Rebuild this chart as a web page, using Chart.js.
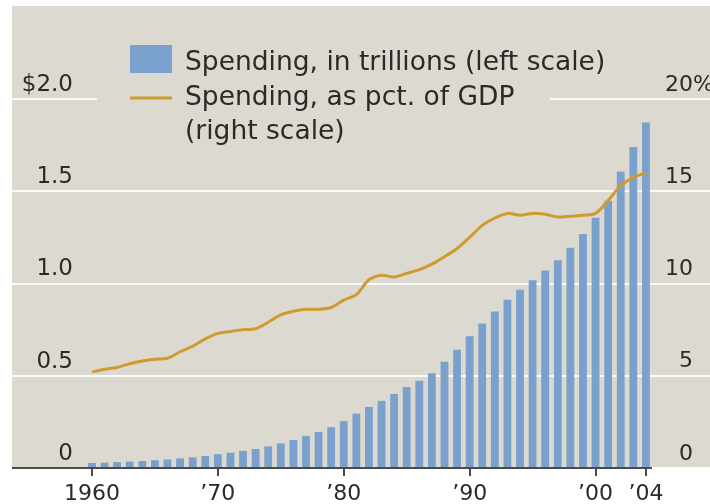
<!DOCTYPE html>
<html>
<head>
<meta charset="utf-8">
<title>Health spending</title>
<script src="https://cdn.jsdelivr.net/npm/chart.js@4.4.1/dist/chart.umd.min.js"></script>
<style>
  html, body { margin: 0; padding: 0; background: #fff; }
  #wrap { position: relative; width: 710px; height: 504px; }
</style>
</head>
<body>
<div id="wrap"><canvas id="spendChart"></canvas></div>
<script>
'use strict';

// ── DATA ────────────────────────────────────────────────────────
var years = [
  1960, 1961, 1962, 1963, 1964, 1965, 1966, 1967, 1968, 1969,
  1970, 1971, 1972, 1973, 1974, 1975, 1976, 1977, 1978, 1979,
  1980, 1981, 1982, 1983, 1984, 1985, 1986, 1987, 1988, 1989,
  1990, 1991, 1992, 1993, 1994, 1995, 1996, 1997, 1998, 1999,
  2000, 2001, 2002, 2003, 2004
];

// spending, in trillions of dollars (left scale)
var spendingTrillions = [
  0.027, 0.029, 0.032, 0.035, 0.038, 0.042, 0.046, 0.052, 0.058, 0.065,
  0.075, 0.083, 0.093, 0.103, 0.117, 0.133, 0.152, 0.174, 0.195, 0.221,
  0.254, 0.295, 0.331, 0.364, 0.401, 0.439, 0.473, 0.514, 0.576, 0.641,
  0.714, 0.783, 0.848, 0.912, 0.966, 1.017, 1.070, 1.126, 1.194, 1.268,
  1.357, 1.448, 1.607, 1.740, 1.872
];

// spending as pct. of GDP (right scale)
var spendingPctGDP = [
  5.2, 5.35, 5.45, 5.65, 5.8, 5.9, 5.95, 6.3, 6.6, 7.0,
  7.3, 7.4, 7.5, 7.55, 7.9, 8.3, 8.5, 8.6, 8.6, 8.7,
  9.1, 9.4, 10.2, 10.45, 10.35, 10.55, 10.75, 11.05, 11.45, 11.9,
  12.5, 13.15, 13.55, 13.8, 13.7, 13.8, 13.75, 13.6, 13.65, 13.7,
  13.8, 14.5, 15.3, 15.75, 16.0
];

var leftTicks       = [0, 0.5, 1, 1.5, 2];
var leftTickLabels  = ['0', '0.5', '1.0', '1.5', '$2.0'];
var rightTicks      = [0, 5, 10, 15, 20];
var rightTickLabels = ['0', '5', '10', '15', '20'];
var xTickYears      = [1960, 1970, 1980, 1990, 2000, 2004];
var xTickLabels     = ['1960', '\u201970', '\u201980', '\u201990', '\u201900', '\u201904'];

var legendLabels = [
  ['Spending, in trillions (left scale)'],
  ['Spending, as pct. of GDP', '(right scale)']
];

// ── STYLE ───────────────────────────────────────────────────────
var BG         = '#dcdad0';
var BAR_COLOR  = '#7aa0cd';
var LINE_COLOR = '#cf9a2e';
var TEXT_COLOR = '#2a2a2a';
var FONT       = '"DejaVu Sans", sans-serif';
var TICK_LIFT  = 14;   // tick labels sit above their grid line

// ── PLUGINS ─────────────────────────────────────────────────────
var panelBg = {
  id: 'panelBg',
  beforeDraw: function (chart) {
    var a = chart.chartArea, ctx = chart.ctx;
    ctx.save();
    ctx.fillStyle = BG;
    ctx.fillRect(a.left, 6, a.right - a.left, a.bottom - 6);
    ctx.restore();
  }
};

var axisAndLegend = {
  id: 'axisAndLegend',
  afterDraw: function (chart) {
    var ctx = chart.ctx, a = chart.chartArea;
    var xs = chart.scales.x, ys = chart.scales.y, y1 = chart.scales.y1;
    ctx.save();

    // baseline: stops at the last bar
    ctx.strokeStyle = '#4a4a4a';
    ctx.lineWidth = 2;
    ctx.beginPath();
    ctx.moveTo(a.left, a.bottom);
    ctx.lineTo(xs.getPixelForValue(years[years.length - 1]) + 6, a.bottom);
    ctx.stroke();

    // left-hand tick labels, right-aligned inside the panel
    ctx.fillStyle = TEXT_COLOR;
    ctx.font = '23px ' + FONT;
    ctx.textAlign = 'right';
    ctx.textBaseline = 'middle';
    leftTicks.forEach(function (v, i) {
      ctx.fillText(leftTickLabels[i], a.left + 61, ys.getPixelForValue(v) - TICK_LIFT);
    });

    // "%" after the top right-hand tick
    ctx.font = '22px ' + FONT;
    ctx.textAlign = 'left';
    ctx.fillText('%', y1.left - 17, y1.getPixelForValue(20) - TICK_LIFT);

    // legend box
    ctx.fillStyle = BG;
    ctx.fillRect(97, 38, 453, 112);
    ctx.fillStyle = BAR_COLOR;
    ctx.fillRect(130, 45, 42, 28);
    ctx.strokeStyle = LINE_COLOR;
    ctx.lineWidth = 3;
    ctx.beginPath();
    ctx.moveTo(130, 98);
    ctx.lineTo(172, 98);
    ctx.stroke();

    ctx.fillStyle = TEXT_COLOR;
    ctx.font = '26.5px ' + FONT;
    ctx.textBaseline = 'alphabetic';
    ctx.fillText(legendLabels[0][0], 185, 70);
    ctx.fillText(legendLabels[1][0], 185, 105);
    ctx.fillText(legendLabels[1][1], 185, 139);
    ctx.restore();
  }
};

// ── CHART ───────────────────────────────────────────────────────
var ctx = document.getElementById('spendChart').getContext('2d');

new Chart(ctx, {
  type: 'bar',
  data: {
    datasets: [
      {
        type: 'line',
        label: legendLabels[1].join(' '),
        data: years.map(function (yr, i) { return { x: yr, y: spendingPctGDP[i] }; }),
        yAxisID: 'y1',
        borderColor: LINE_COLOR,
        borderWidth: 3,
        pointRadius: 0,
        tension: 0.3,
        fill: false,
        order: 0
      },
      {
        type: 'bar',
        label: legendLabels[0][0],
        data: years.map(function (yr, i) { return { x: yr, y: spendingTrillions[i] }; }),
        yAxisID: 'y',
        backgroundColor: BAR_COLOR,
        borderWidth: 0,
        barPercentage: 0.62,
        categoryPercentage: 1,
        order: 1
      }
    ]
  },
  options: {
    responsive: true,
    maintainAspectRatio: false,
    animation: false,
    layout: { padding: { left: 12, top: 99, right: 0, bottom: 0 } },
    plugins: {
      legend: { display: false },
      tooltip: { enabled: false }
    },
    scales: {
      x: {
        type: 'linear',
        min: 1953.65,
        max: 2009.09,
        offset: false,
        border: { display: false },
        grid: {
          offset: false,
          drawOnChartArea: false,
          drawTicks: true,
          tickLength: 8,
          color: '#4a4a4a',
          lineWidth: 2
        },
        afterBuildTicks: function (scale) {
          scale.ticks = xTickYears.map(function (v) { return { value: v }; });
        },
        afterFit: function (scale) { scale.height = 36; },
        ticks: {
          padding: 5,
          color: TEXT_COLOR,
          font: { family: FONT, size: 22 },
          maxRotation: 0,
          autoSkip: false,
          callback: function (v) {
            var i = xTickYears.indexOf(v);
            return i < 0 ? '' : xTickLabels[i];
          }
        }
      },
      y: {
        position: 'left',
        min: 0,
        max: 2,
        z: 1,
        border: { display: false },
        grid: {
          color: 'rgba(255,255,255,0.85)',
          lineWidth: 2,
          drawTicks: false
        },
        afterBuildTicks: function (scale) {
          scale.ticks = leftTicks.map(function (v) { return { value: v }; });
        },
        afterFit: function (scale) { scale.width = 0; },
        ticks: { display: false }   // drawn right-aligned by axisAndLegend
      },
      y1: {
        position: 'right',
        min: 0,
        max: 20,
        z: 1,
        border: { display: false },
        grid: { display: false, drawTicks: false },
        afterBuildTicks: function (scale) {
          scale.ticks = rightTicks.map(function (v) { return { value: v }; });
        },
        afterFit: function (scale) { scale.width = 0; },
        ticks: {
          mirror: true,
          padding: -17,
          labelOffset: -TICK_LIFT,
          color: TEXT_COLOR,
          font: { family: FONT, size: 22 },
          callback: function (v) {
            var i = rightTicks.indexOf(v);
            return i < 0 ? '' : rightTickLabels[i];
          }
        }
      }
    }
  },
  plugins: [panelBg, axisAndLegend]
});
</script>
</body>
</html>
